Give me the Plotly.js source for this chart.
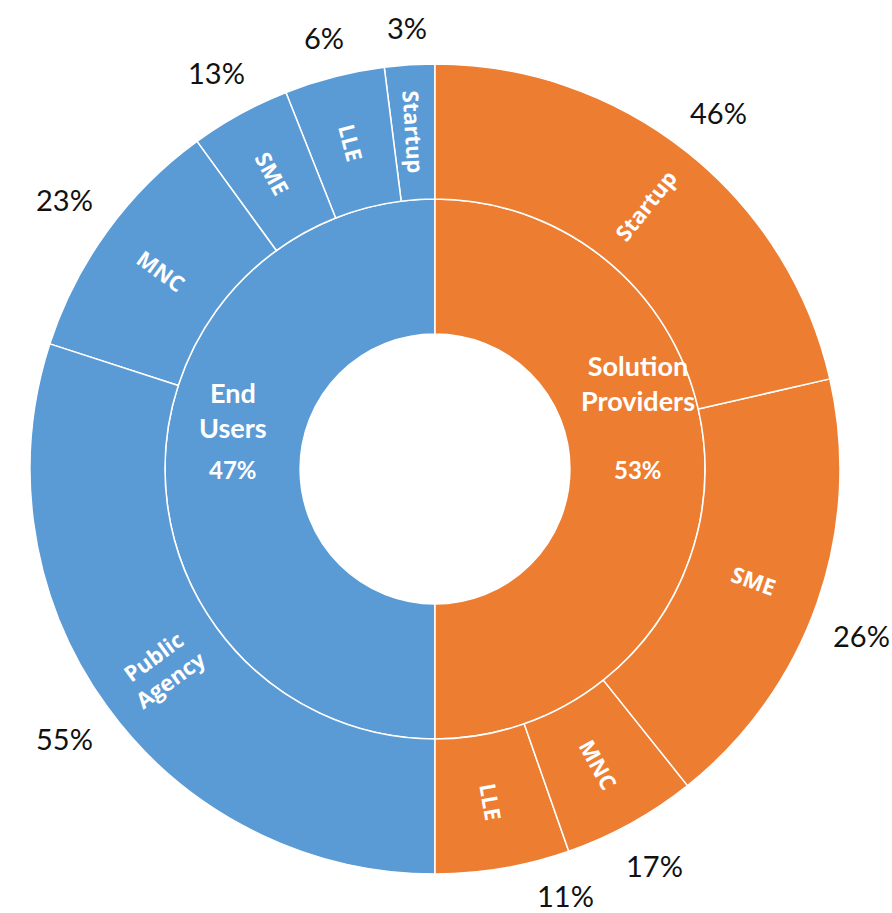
<!DOCTYPE html>
<html>
<head>
<meta charset="utf-8">
<script src="https://cdn.plot.ly/plotly-3.0.1.min.js"></script>
<style>html,body{margin:0;padding:0;background:#fff;}#chart{width:892px;height:913px;}</style>
</head>
<body>
<div id="chart"></div>
<script>
// ---- data ----
var groupNames = ["End Users", "Solution Providers"];
var groupPct = [47, 53];

var euLabels = ["Public Agency", "MNC", "SME", "LLE", "Startup"];
var euCounts = [15, 5, 2, 2, 1];
var euPct = [55, 23, 13, 6, 3];

var spLabels = ["Startup", "SME", "MNC", "LLE"];
var spCounts = [12, 10, 3, 3];
var spPct = [46, 26, 17, 11];

// ---- styling ----
var W = 892, H = 913;
var cx = 435, cy = 469, R = 405;
var BLUE = "#5B9BD5", ORANGE = "#ED7D31";
var NAME_FONT = "Lato", LEAF_FONT = "Open Sans", PCT_FONT = "Lato";
var nameDy = [-59, -86];          // vertical offset of the group name block (style)

function sum(a){ return a.reduce(function(s,v){return s+v;},0); }

var ids = ["root"], labels = [""], parents = [""], values = [0], colors = ["#ffffff"];

function addGroup(key, name, color, childLabels, childCounts){
  ids.push(key); labels.push(name); parents.push("root"); values.push(0); colors.push(color);
  var tot = sum(childCounts);
  // plotly lays slices out counter-clockwise; the reference reads clockwise -> reverse
  for (var i = childLabels.length - 1; i >= 0; i--) {
    ids.push(key + "-" + childLabels[i]);
    labels.push(childLabels[i]);
    parents.push(key);
    values.push(childCounts[i] / tot);   // each group fills one half of the ring
    colors.push(color);
  }
}
addGroup("EU", groupNames[0], BLUE, euLabels, euCounts);
addGroup("SP", groupNames[1], ORANGE, spLabels, spCounts);

var trace = {
  type: "sunburst",
  ids: ids, labels: labels, parents: parents, values: values,
  branchvalues: "remainder",
  sort: false,
  rotation: 90,
  textinfo: "none",
  marker: {colors: colors, line: {color: "#ffffff", width: 1.5}},
  leaf: {opacity: 1},
  hoverinfo: "none",
  domain: {x: [(cx - R) / W, (cx + R) / W], y: [(H - cy - R) / H, (H - cy + R) / H]}
};

var annotations = [];
function px(x){ return x / W; }
function py(y){ return 1 - y / H; }

// inner ring labels (group names + group share)
var innerR = (R / 3 + 2 * R / 3) / 2;
[[270, 0], [90, 1]].forEach(function(g){
  var a = g[0] * Math.PI / 180, k = g[1];
  var x = cx + innerR * Math.sin(a);
  annotations.push({xref: "paper", yref: "paper", x: px(x), y: py(cy + nameDy[k]),
    text: groupNames[k].split(" ").map(function(w){return "<b>" + w + "</b>";}).join("<br>"),
    showarrow: false, xanchor: "center", yanchor: "middle",
    font: {family: NAME_FONT, size: 27, color: "#ffffff"}});
  annotations.push({xref: "paper", yref: "paper", x: px(x), y: py(cy),
    text: "<b>" + groupPct[k] + "%</b>",
    showarrow: false, xanchor: "center", yanchor: "middle",
    font: {family: NAME_FONT, size: 24, color: "#ffffff"}});
});

// outer ring labels (radial text) and outside percentages
var outerR = (2 * R / 3 + R) / 2;
function addOuter(startDeg, childLabels, counts, pcts){
  var tot = sum(counts), acc = 0;
  for (var i = 0; i < counts.length; i++) {
    var mid = startDeg + (acc + counts[i] / 2) / tot * 180;
    acc += counts[i];
    var a = mid * Math.PI / 180;
    var rot = mid < 180 ? mid - 90 : mid - 270;
    annotations.push({xref: "paper", yref: "paper",
      x: px(cx + outerR * Math.sin(a)), y: py(cy - outerR * Math.cos(a)),
      text: childLabels[i].split(" ").map(function(w){return "<b>" + w + "</b>";}).join("<br>"),
      textangle: rot, showarrow: false, xanchor: "center", yanchor: "middle",
      font: {family: LEAF_FONT, size: 22, color: "#ffffff"}});

    // percentage outside the ring
    var txt = pcts[i] + "%";
    var w = txt.length * 19, h = 30, gap = 21;
    var s = Math.sin(a), c = Math.cos(a);
    var r = R + gap + Math.abs(s) * w / 2 + Math.abs(c) * h / 2;
    var maxY = H - 3 - h / 2, maxX = W - 2 - w / 2;
    if (cy - r * c > maxY) {          // keep inside the picture: slide along the circle
      var a2 = Math.acos(-(maxY - cy) / r);
      a = s >= 0 ? a2 : 2 * Math.PI - a2;
    } else if (cx + r * s > maxX) {
      var a3 = Math.asin((maxX - cx) / r);
      a = c >= 0 ? a3 : Math.PI - a3;
    }
    s = Math.sin(a); c = Math.cos(a);
    annotations.push({xref: "paper", yref: "paper",
      x: px(cx + r * s), y: py(cy - r * c),
      text: txt, showarrow: false, xanchor: "center", yanchor: "middle",
      font: {family: PCT_FONT, size: 29, color: "#111111"}});
  }
}
addOuter(0, spLabels, spCounts, spPct);
addOuter(180, euLabels, euCounts, euPct);

var layout = {
  width: W, height: H,
  margin: {l: 0, r: 0, t: 0, b: 0},
  paper_bgcolor: "#ffffff",
  showlegend: false,
  annotations: annotations
};
Plotly.newPlot("chart", [trace], layout, {displayModeBar: false, staticPlot: true});
</script>
</body>
</html>
